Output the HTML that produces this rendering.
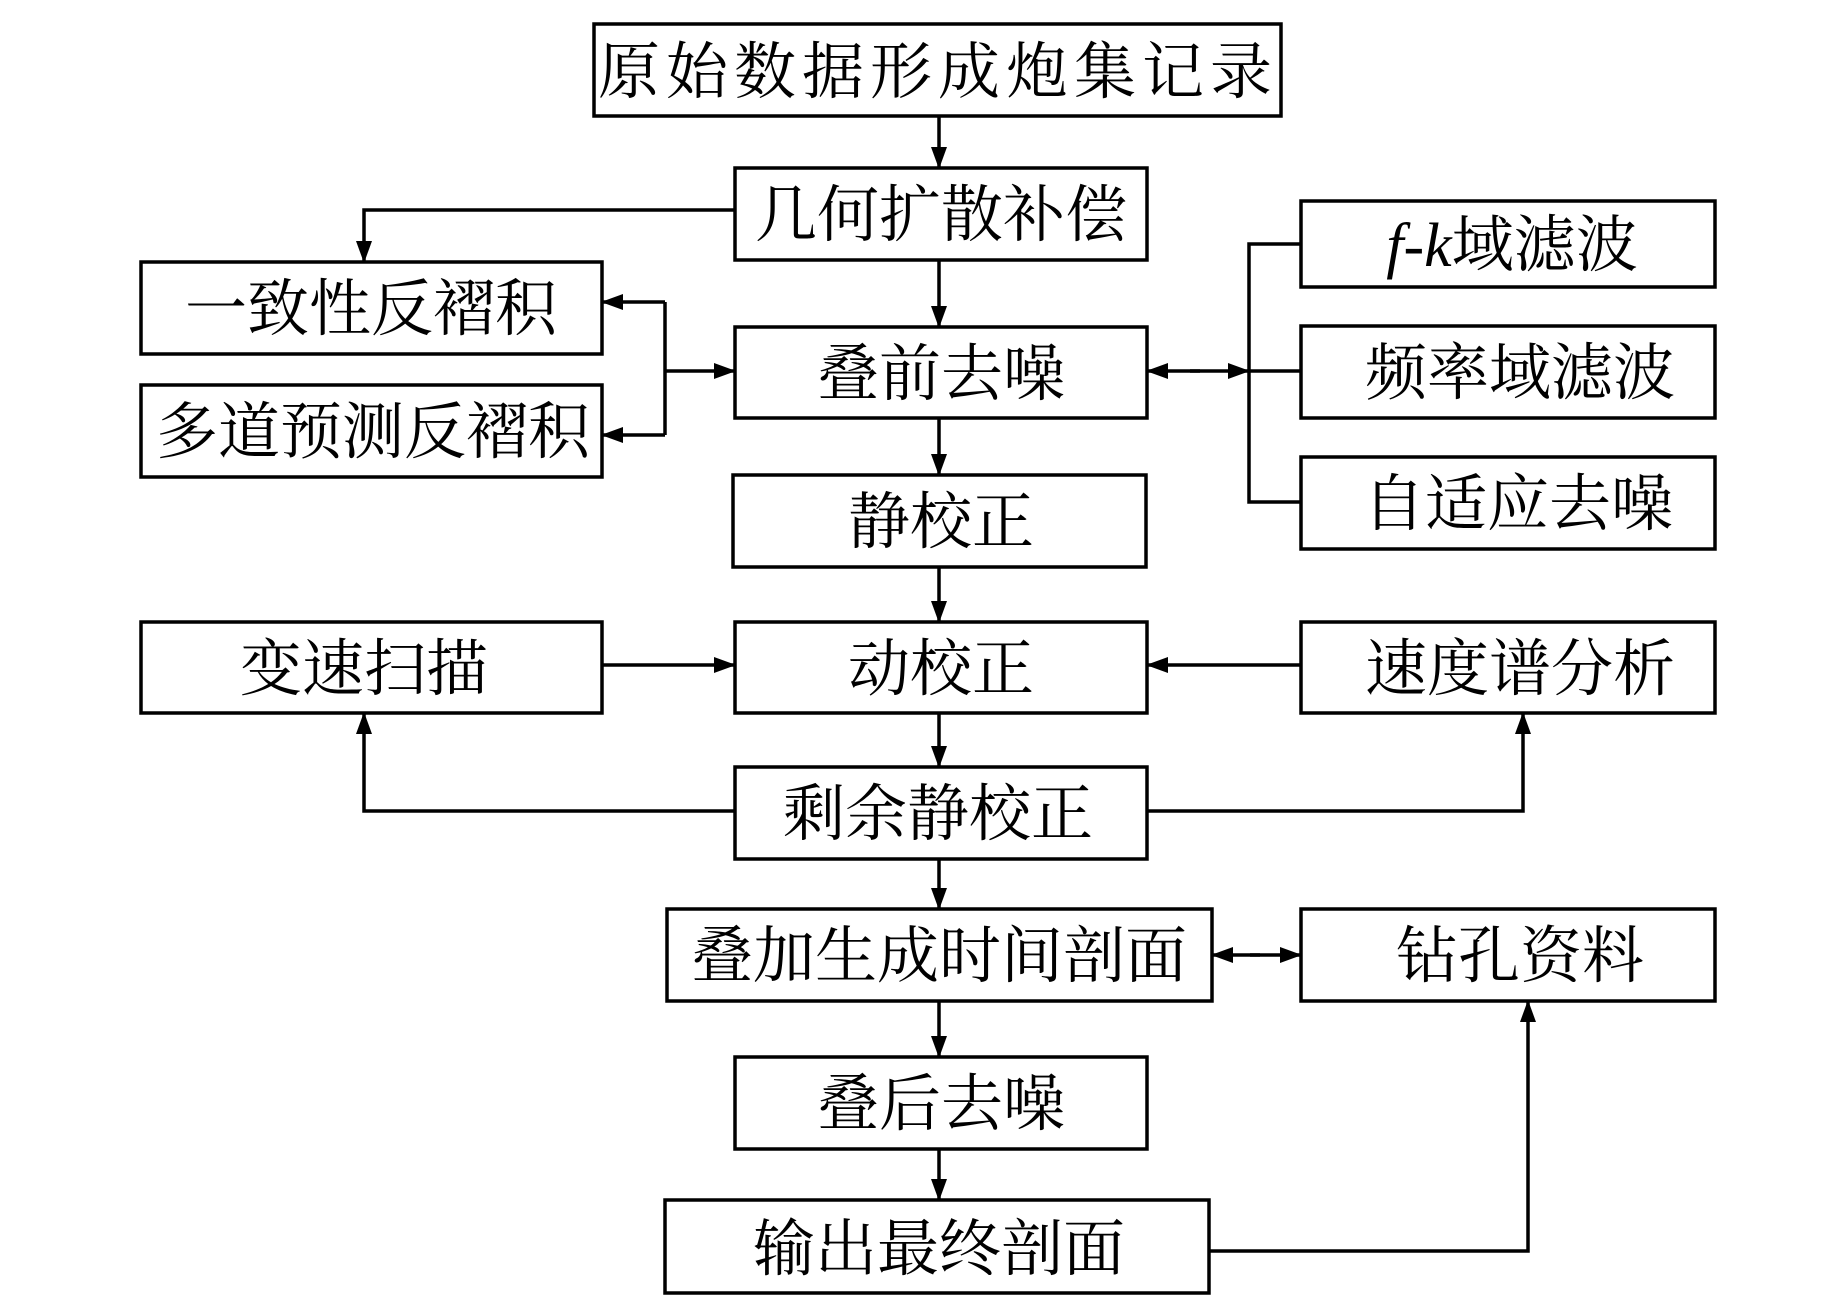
<!DOCTYPE html>
<html><head><meta charset="utf-8"><style>
html,body{margin:0;padding:0;background:#fff}
svg text{font-family:"Liberation Serif","Noto Serif CJK SC",serif;font-size:62px;fill:#000}
</style></head><body>
<svg width="1843" height="1299" viewBox="0 0 1843 1299" xmlns="http://www.w3.org/2000/svg">
<defs>
<marker id="a" markerWidth="22" markerHeight="16" refX="21" refY="8" orient="auto" markerUnits="userSpaceOnUse">
<path d="M0,0 L22,8 L0,16 Z" fill="#000"/></marker>
</defs>
<g fill="none" stroke="#000" stroke-width="3.5">
<rect x="594" y="24" width="687" height="92"/>
<rect x="735" y="168" width="412" height="92"/>
<rect x="141" y="262" width="461" height="92"/>
<rect x="141" y="385" width="461" height="92"/>
<rect x="735" y="327" width="412" height="91"/>
<rect x="733" y="475" width="413" height="92"/>
<rect x="1301" y="201" width="414" height="86"/>
<rect x="1301" y="326" width="414" height="92"/>
<rect x="1301" y="457" width="414" height="92"/>
<rect x="141" y="622" width="461" height="91"/>
<rect x="735" y="622" width="412" height="91"/>
<rect x="1301" y="622" width="414" height="91"/>
<rect x="735" y="767" width="412" height="92"/>
<rect x="667" y="909" width="545" height="92"/>
<rect x="1301" y="909" width="414" height="92"/>
<rect x="735" y="1057" width="412" height="92"/>
<rect x="665" y="1200" width="544" height="93"/>
</g>
<g fill="none" stroke="#000" stroke-width="3.5">
<line x1="939" y1="116" x2="939" y2="168" marker-end="url(#a)"/>
<polyline points="735,210 364,210 364,262" marker-end="url(#a)"/>
<line x1="939" y1="260" x2="939" y2="327" marker-end="url(#a)"/>
<polyline points="665,302 665,435"/>
<line x1="665" y1="302" x2="602" y2="302" marker-end="url(#a)"/>
<line x1="665" y1="435" x2="602" y2="435" marker-end="url(#a)"/>
<line x1="665" y1="371" x2="735" y2="371" marker-end="url(#a)"/>
<line x1="1200" y1="371" x2="1147" y2="371" marker-end="url(#a)"/>
<line x1="1190" y1="371" x2="1249" y2="371" marker-end="url(#a)"/>
<polyline points="1301,244 1249,244 1249,502 1301,502"/>
<line x1="1249" y1="371" x2="1301" y2="371"/>
<line x1="939" y1="418" x2="939" y2="475" marker-end="url(#a)"/>
<line x1="939" y1="567" x2="939" y2="622" marker-end="url(#a)"/>
<line x1="602" y1="665" x2="735" y2="665" marker-end="url(#a)"/>
<line x1="1301" y1="665" x2="1147" y2="665" marker-end="url(#a)"/>
<line x1="939" y1="713" x2="939" y2="767" marker-end="url(#a)"/>
<polyline points="735,811 364,811 364,713" marker-end="url(#a)"/>
<polyline points="1147,811 1523,811 1523,713" marker-end="url(#a)"/>
<line x1="939" y1="859" x2="939" y2="909" marker-end="url(#a)"/>
<line x1="1260" y1="955" x2="1212" y2="955" marker-end="url(#a)"/>
<line x1="1250" y1="955" x2="1301" y2="955" marker-end="url(#a)"/>
<line x1="939" y1="1001" x2="939" y2="1057" marker-end="url(#a)"/>
<line x1="939" y1="1149" x2="939" y2="1200" marker-end="url(#a)"/>
<polyline points="1209,1251 1528,1251 1528,1001" marker-end="url(#a)"/>
</g>
<g text-anchor="middle">
<text x="938" y="93" letter-spacing="6">原始数据形成炮集记录</text>
<text x="941" y="236">几何扩散补偿</text>
<text x="371" y="330">一致性反褶积</text>
<text x="373" y="453">多道预测反褶积</text>
<text x="941" y="395">叠前去噪</text>
<text x="941" y="543">静校正</text>
<text x="1512" y="266"><tspan font-style="italic">f</tspan>-<tspan font-style="italic">k</tspan>域滤波</text>
<text x="1520" y="394">频率域滤波</text>
<text x="1518" y="525">自适应去噪</text>
<text x="364" y="690">变速扫描</text>
<text x="941" y="690">动校正</text>
<text x="1520" y="690">速度谱分析</text>
<text x="938" y="835">剩余静校正</text>
<text x="939" y="977">叠加生成时间剖面</text>
<text x="1520" y="977">钻孔资料</text>
<text x="941" y="1125">叠后去噪</text>
<text x="939" y="1270">输出最终剖面</text>
</g>
</svg>
</body></html>
